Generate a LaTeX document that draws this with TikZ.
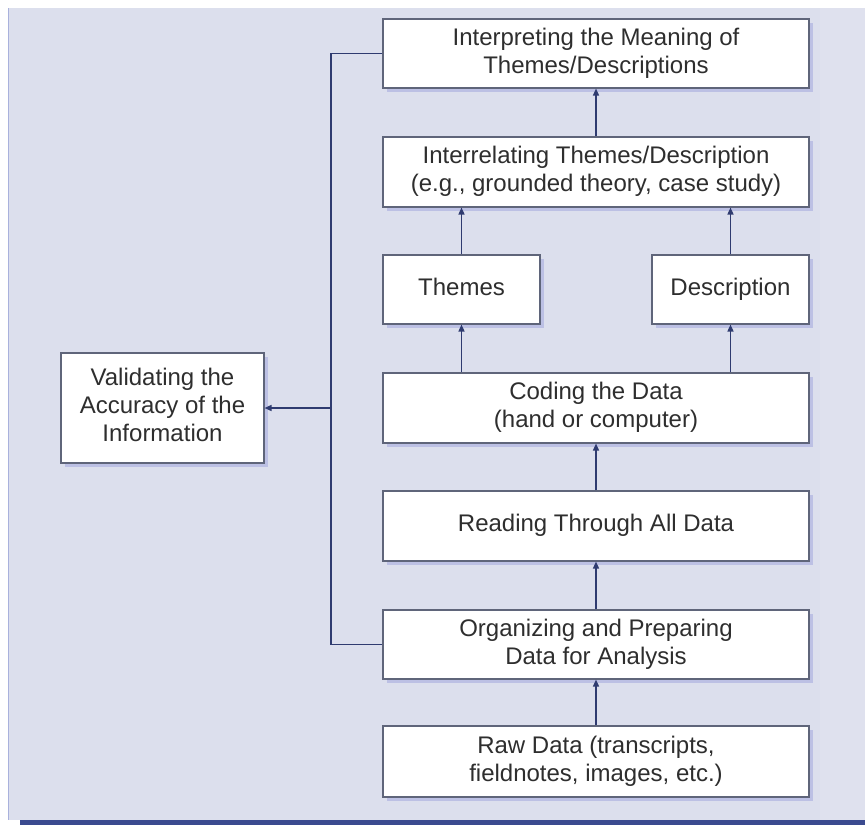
\documentclass[tikz,border=0pt]{standalone}
\usepackage{fontspec}
\setmainfont{Liberation Sans}
\usetikzlibrary{arrows.meta,shadows}
\definecolor{panel}{HTML}{DCDFED}
\definecolor{panelr}{HTML}{DFE1EE}
\definecolor{edgeL}{HTML}{A9B1DC}
\definecolor{barc}{HTML}{3B4A8F}
\definecolor{boxline}{HTML}{5F657A}
\definecolor{linec}{HTML}{2F3B70}
\definecolor{shadowc}{HTML}{BCC0E4}
\definecolor{txt}{HTML}{2E2E2E}
\tikzset{
  box/.style={draw=boxline, line width=1.1pt, fill=white, rectangle,
    inner sep=0pt, align=center, text=txt,
    font=\fontsize{24}{28}\selectfont,
    general shadow={fill=shadowc, shadow xshift=4pt, shadow yshift=-4pt}},
  link/.style={draw=linec, line width=1.5pt,
    -{Triangle[width=6pt,length=7pt]}},
  plain/.style={draw=linec, line width=1.5pt}
}
\begin{document}
\begin{tikzpicture}[x=1pt,y=-1pt]
\useasboundingbox (0,0) rectangle (865,825);
\fill[white] (0,0) rectangle (865,825);
\fill[panel] (8,8) rectangle (865,820);
\fill[panelr] (820,8) rectangle (865,820);
\draw[edgeL, line width=1.5pt] (8.5,8) -- (8.5,820);
\fill[barc] (20,820) rectangle (865,825);

\node[box, minimum width=426pt, minimum height=69pt] (interp) at (596,53.5)
  {\strut Interpreting the Meaning of\\\strut Themes/Descriptions};
\node[box, minimum width=426pt, minimum height=70pt] (interrel) at (596,172)
  {\strut Interrelating Themes/Description\\\strut (e.g., grounded theory, case study)};
\node[box, minimum width=157pt, minimum height=69pt] (themes) at (461.5,289.5)
  {\strut Themes};
\node[box, minimum width=157pt, minimum height=69pt] (descr) at (730.5,289.5)
  {\strut Description};
\node[box, minimum width=426pt, minimum height=70pt] (coding) at (596,408)
  {\strut Coding the Data\\\strut (hand or computer)};
\node[box, minimum width=426pt, minimum height=70pt] (reading) at (596,526)
  {\strut Reading Through All Data};
\node[box, minimum width=426pt, minimum height=69pt] (organ) at (596,644.5)
  {\strut Organizing and Preparing\\\strut Data for Analysis};
\node[box, minimum width=426pt, minimum height=71pt] (raw) at (596,761.5)
  {\strut Raw Data (transcripts,\\\strut fieldnotes, images, etc.)};
\node[box, minimum width=203pt, minimum height=110pt] (valid) at (162.5,408)
  {\strut Validating the\\\strut Accuracy of the\\\strut Information};

\coordinate (bus) at (331,408);

\draw[link] (raw) -- (organ);
\draw[link] (organ) -- (reading);
\draw[link] (reading) -- (coding);
\draw[link] (coding.north -| themes) -- (themes);
\draw[link] (coding.north -| descr) -- (descr);
\draw[link] (themes) -- (interrel.south -| themes);
\draw[link] (descr) -- (interrel.south -| descr);
\draw[link] (interrel) -- (interp);
\draw[plain] (interp.west) -| (bus) |- (organ.west);
\draw[link] (bus) -- (valid.east);
\end{tikzpicture}
\end{document}
